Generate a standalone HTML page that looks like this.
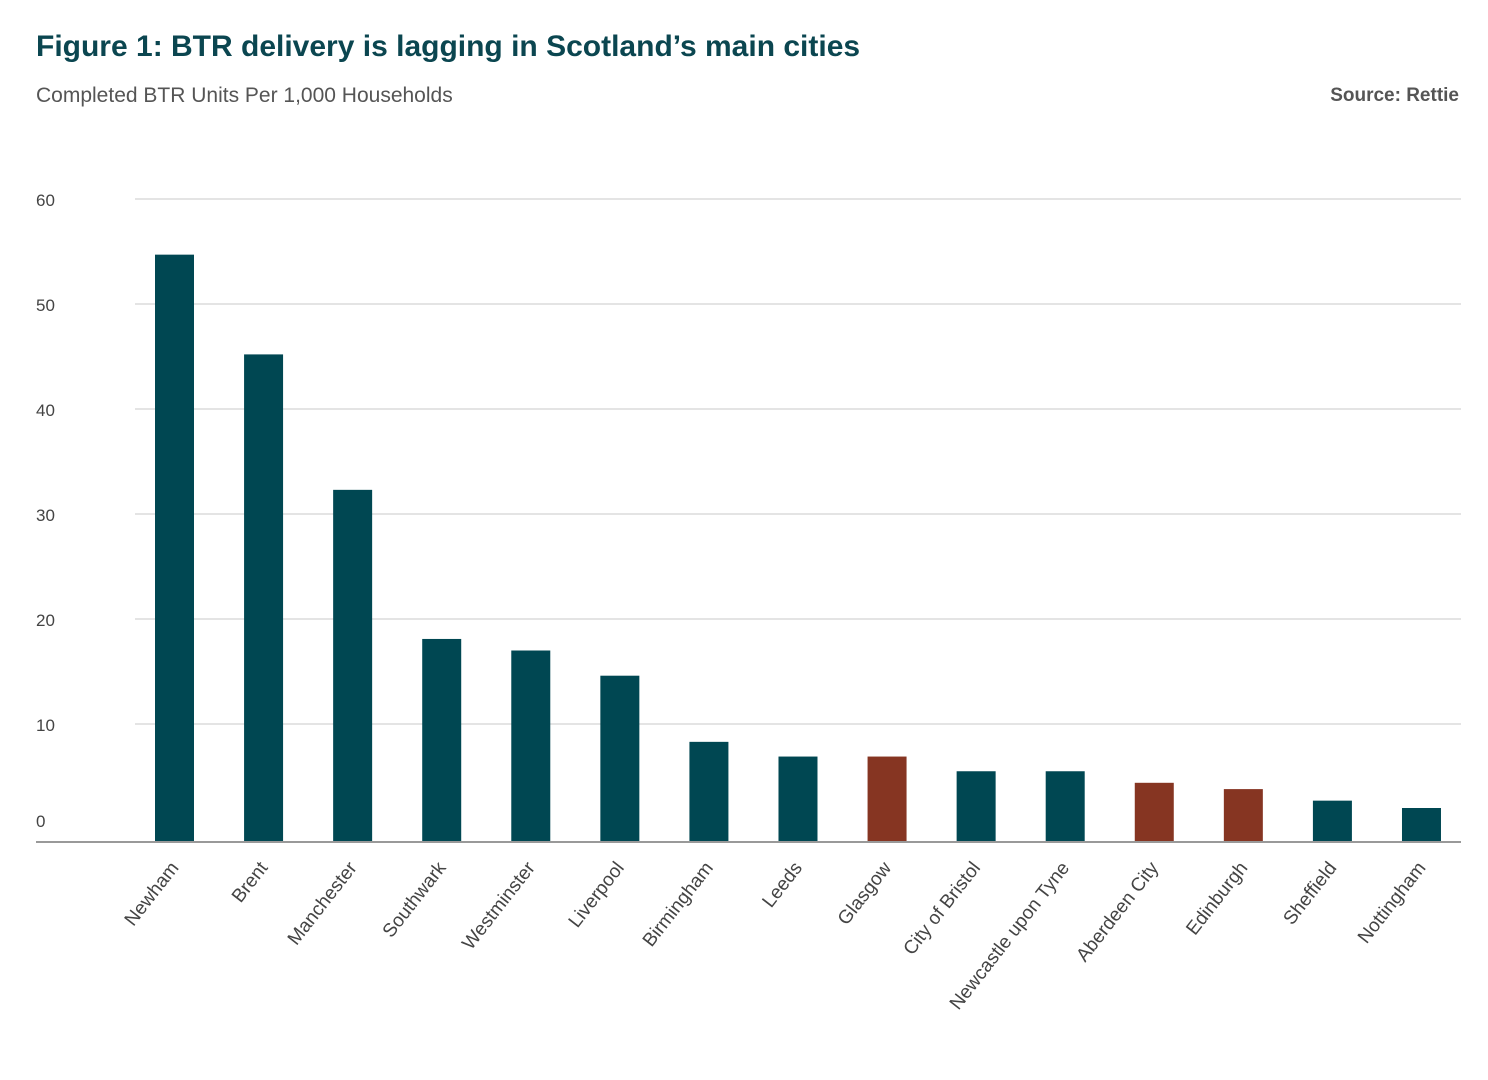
<!DOCTYPE html>
<html><head><meta charset="utf-8"><style>
body{margin:0;width:1488px;height:1080px;background:#fff;font-family:"Liberation Sans",sans-serif;overflow:hidden;position:relative}
.t{position:absolute;left:36px;top:30px;font-size:30px;font-weight:bold;color:#0b4650}
.s{position:absolute;left:36px;top:84px;font-size:21px;color:#555}
.src{position:absolute;right:29px;top:85px;font-size:19px;font-weight:bold;color:#555}
</style></head><body>
<div class="t">Figure 1: BTR delivery is lagging in Scotland’s main cities</div>
<div class="s">Completed BTR Units Per 1,000 Households</div>
<div class="src">Source: Rettie</div>
<svg id="c" width="1488" height="1080" style="position:absolute;left:0;top:0"></svg>
<script>
const categories=["Newham","Brent","Manchester","Southwark","Westminster","Liverpool","Birmingham","Leeds","Glasgow","City of Bristol","Newcastle upon Tyne","Aberdeen City","Edinburgh","Sheffield","Nottingham"];
const values=[54.7,45.2,32.3,18.1,17.0,14.6,8.3,6.9,6.9,5.5,5.5,4.4,3.8,2.7,2.0];
const scottish=[false,false,false,false,false,false,false,false,true,false,false,true,true,false,false];
const ticks=[0,10,20,30,40,50,60];
const NS="http://www.w3.org/2000/svg",svg=document.getElementById('c');
const y=v=>829-v*10.5, x=i=>174.5+i*89.07;
function mk(t,a){const e=document.createElementNS(NS,t);for(const k in a)e.setAttribute(k,a[k]);svg.appendChild(e);return e;}
ticks.forEach(t=>{
 if(t>0){const g=mk('line',{x1:135,x2:1461,y1:y(t),y2:y(t),stroke:'#c8c8c8','stroke-width':1});
 
 }
 const l=mk('text',{x:36,y:(t===0?820:y(t))+7,'font-size':17,fill:'#444'});
 l.textContent=t;
 
 
});
categories.forEach((c,i)=>{
 const b=mk('rect',{x:x(i)-19.5,y:y(values[i]),width:39,height:842-y(values[i]),fill:scottish[i]?'#863522':'#004752'});
 
 
 const t=mk('text',{x:x(i)+5,y:868,'font-size':19,fill:'#444','text-anchor':'end',transform:`rotate(-52 ${x(i)+5} 868)`});
 t.textContent=c;
 
 
});
const ax=mk('line',{x1:36,x2:1461,y1:842,y2:842,stroke:'#999','stroke-width':2});


</script>
</body></html>
